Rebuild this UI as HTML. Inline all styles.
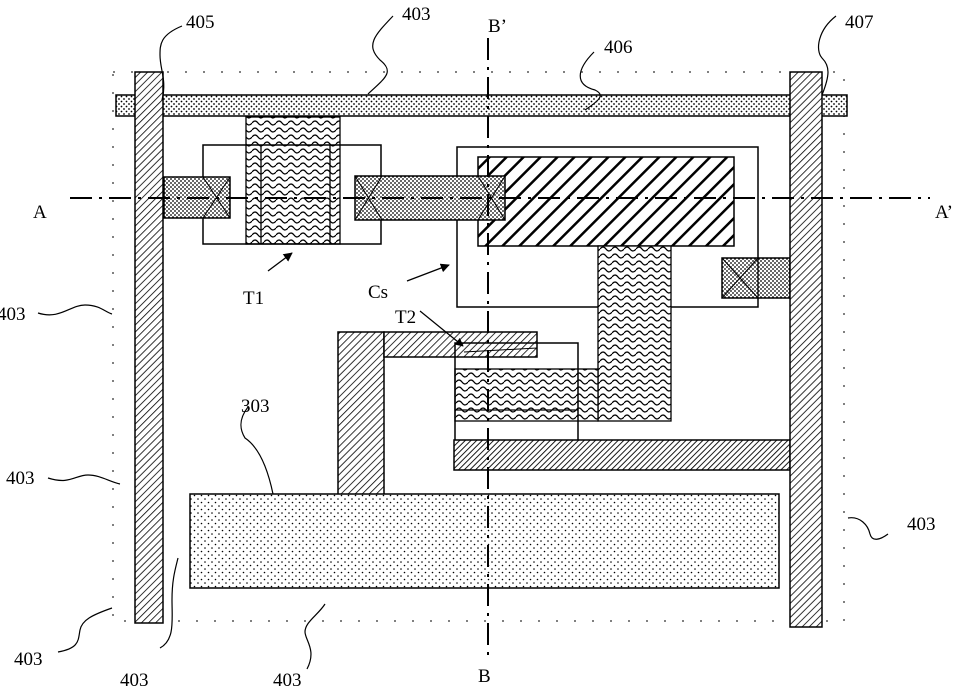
<!DOCTYPE html>
<html><head><meta charset="utf-8">
<style>
html,body{margin:0;padding:0;background:#fff;}
svg{display:block;}
text{font-family:"Liberation Serif",serif;font-size:19px;fill:#000;}
</style></head>
<body>
<svg width="959" height="689" viewBox="0 0 959 689" xmlns="http://www.w3.org/2000/svg">
<defs>
<pattern id="hatch" width="5" height="5" patternUnits="userSpaceOnUse" patternTransform="rotate(45)">
<rect width="5" height="5" fill="#fff"/><line x1="0" y1="0" x2="0" y2="5" stroke="#000" stroke-width="1.6"/>
</pattern>
<pattern id="bold" width="12" height="12" patternUnits="userSpaceOnUse" patternTransform="rotate(45)">
<rect width="12" height="12" fill="#fff"/><line x1="0" y1="0" x2="0" y2="12" stroke="#000" stroke-width="5"/>
</pattern>
<pattern id="dense" width="4" height="4" patternUnits="userSpaceOnUse" patternTransform="rotate(45)">
<rect width="4" height="4" fill="#fff"/><line x1="0" y1="0" x2="0" y2="4" stroke="#000" stroke-width="1.8"/>
</pattern>
<pattern id="dots" width="5" height="5" patternUnits="userSpaceOnUse">
<rect width="5" height="5" fill="#fff"/><circle cx="1.5" cy="1.5" r="0.9" fill="#000"/><circle cx="4" cy="4" r="0.9" fill="#000"/>
</pattern>
<pattern id="dots2" width="4" height="4" patternUnits="userSpaceOnUse">
<rect width="4" height="4" fill="#fff"/><circle cx="1" cy="1" r="0.9" fill="#000"/><circle cx="3" cy="3" r="0.9" fill="#000"/>
</pattern>
<pattern id="sparse" width="7" height="7" patternUnits="userSpaceOnUse">
<rect width="7" height="7" fill="#fff"/><circle cx="2" cy="2" r="0.8" fill="#000"/><circle cx="5.5" cy="5.5" r="0.8" fill="#000"/>
</pattern>
<pattern id="wave" width="12" height="7" patternUnits="userSpaceOnUse">
<rect width="12" height="7" fill="#fff"/><path d="M0 4 Q3 0 6 4 T12 4" fill="none" stroke="#000" stroke-width="1.2"/>
</pattern>
<marker id="arr" viewBox="0 0 10 10" refX="9" refY="5" markerWidth="7" markerHeight="7" orient="auto"><path d="M0 0L10 5L0 10z" fill="#000"/></marker>
</defs>

<rect x="113" y="72" width="731" height="549" fill="none" stroke="#000" stroke-width="1" stroke-dasharray="2 16"/>

<rect x="246" y="117" width="94" height="127" fill="url(#wave)" stroke="#000" stroke-width="1.3"/>
<line x1="261" y1="145" x2="261" y2="244" stroke="#000" stroke-width="1.3"/>
<line x1="330" y1="145" x2="330" y2="244" stroke="#000" stroke-width="1.3"/>
<rect x="203" y="145" width="178" height="99" fill="none" stroke="#000" stroke-width="1.5"/>

<rect x="457" y="147" width="301" height="160" fill="none" stroke="#000" stroke-width="1.5"/>
<rect x="478" y="157" width="256" height="89" fill="url(#bold)" stroke="#000" stroke-width="1.5"/>
<rect x="598" y="246" width="73" height="175" fill="url(#wave)" stroke="#000" stroke-width="1.3"/>

<rect x="164" y="177" width="66" height="41" fill="url(#dots2)" stroke="#000" stroke-width="1.5"/>
<path d="M203 177L230 218M230 177L203 218" stroke="#000" stroke-width="1"/>
<rect x="355" y="176" width="150" height="44" fill="url(#dots2)" stroke="#000" stroke-width="1.5"/>
<path d="M355 176L382 220M382 176L355 220M478 176L505 220M505 176L478 220" stroke="#000" stroke-width="1"/>
<rect x="722" y="258" width="68" height="40" fill="url(#dots2)" stroke="#000" stroke-width="1.5"/>
<line x1="758" y1="258" x2="758" y2="298" stroke="#000" stroke-width="1.2"/>
<path d="M722 258L758 298M758 258L722 298" stroke="#000" stroke-width="1"/>

<rect x="338" y="332" width="46" height="163" fill="url(#hatch)" stroke="#000" stroke-width="1.5"/>
<rect x="384" y="332" width="153" height="25" fill="url(#hatch)" stroke="#000" stroke-width="1.5"/>
<rect x="455" y="369" width="143" height="52" fill="url(#wave)" stroke="#000" stroke-width="1.3"/>
<rect x="455" y="343" width="123" height="109" fill="none" stroke="#000" stroke-width="1.5"/>
<line x1="455" y1="410" x2="578" y2="410" stroke="#000" stroke-width="1.2"/>
<rect x="454" y="440" width="336" height="30" fill="url(#dense)" stroke="#000" stroke-width="1.5"/>

<rect x="190" y="494" width="589" height="94" fill="url(#sparse)" stroke="#000" stroke-width="1.5"/>

<rect x="116" y="95" width="731" height="21" fill="url(#dots)" stroke="#000" stroke-width="1.5"/>
<rect x="135" y="72" width="28" height="551" fill="url(#hatch)" stroke="#000" stroke-width="1.5"/>
<rect x="790" y="72" width="32" height="555" fill="url(#hatch)" stroke="#000" stroke-width="1.5"/>

<line x1="70" y1="198" x2="930" y2="198" stroke="#000" stroke-width="2" stroke-dasharray="22 7 3 7"/>
<line x1="488" y1="38" x2="488" y2="660" stroke="#000" stroke-width="2" stroke-dasharray="22 7 3 7"/>

<line x1="268" y1="271" x2="292" y2="253" stroke="#000" stroke-width="1.3" marker-end="url(#arr)"/>
<line x1="407" y1="281" x2="449" y2="265" stroke="#000" stroke-width="1.3" marker-end="url(#arr)"/>
<line x1="420" y1="311" x2="463" y2="346" stroke="#000" stroke-width="1.2" marker-end="url(#arr)"/>
<path d="M464 352 L537 348" stroke="#000" stroke-width="1"/>

<g fill="none" stroke="#000" stroke-width="1.2">
<path d="M182 26 C160 35 160 45 160 55 C160 70 167 80 162 100"/>
<path d="M393 16 C375 35 365 45 380 60 C395 72 385 78 368 94"/>
<path d="M594 52 C576 70 575 85 595 90 C605 95 600 100 585 110"/>
<path d="M836 16 C818 30 815 50 822 58 C830 66 830 75 822 95"/>
<path d="M38 313 C60 320 70 305 85 305 C100 305 105 312 112 314"/>
<path d="M48 478 C70 485 75 475 88 475 C100 475 110 482 120 484"/>
<path d="M848 518 C860 516 868 525 870 534 C872 542 880 540 888 534"/>
<path d="M58 652 C80 648 78 640 80 630 C82 620 92 615 112 608"/>
<path d="M160 648 C175 640 172 620 172 600 C172 580 175 570 178 558"/>
<path d="M307 669 C317 650 305 640 305 632 C305 622 318 615 325 604"/>
<path d="M248 407 C238 420 240 430 245 438 C260 448 268 470 273 494"/>
</g>

<text x="186" y="28">405</text>
<text x="402" y="20">403</text>
<text x="488" y="32">B’</text>
<text x="604" y="53">406</text>
<text x="845" y="28">407</text>
<text x="33" y="218">A</text>
<text x="935" y="218">A’</text>
<text x="-3" y="320">403</text>
<text x="243" y="304">T1</text>
<text x="368" y="298">Cs</text>
<text x="395" y="323">T2</text>
<text x="241" y="412">303</text>
<text x="6" y="484">403</text>
<text x="907" y="530">403</text>
<text x="14" y="665">403</text>
<text x="120" y="686">403</text>
<text x="273" y="686">403</text>
<text x="478" y="682">B</text>
</svg>
</body></html>
